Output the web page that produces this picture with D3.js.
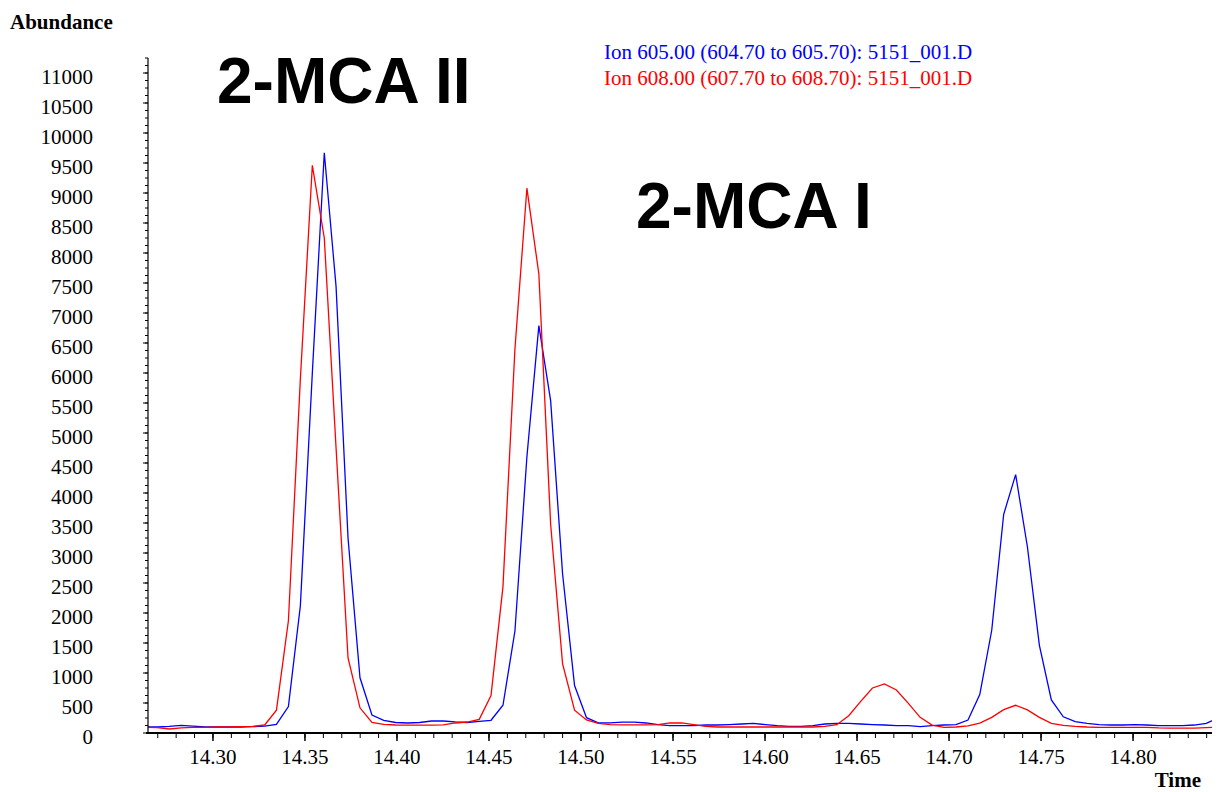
<!DOCTYPE html>
<html>
<head>
<meta charset="utf-8">
<script src="https://cdn.jsdelivr.net/npm/d3@7"></script>
<style>
  body { margin: 0; background: #ffffff; }
  svg { display: block; }
</style>
</head>
<body>
<div id="my_dataviz"></div>
<script>
// Scan times (minutes)
var times = [14.2633, 14.2698, 14.2762, 14.2827, 14.2892, 14.2957, 14.3022, 14.3086, 14.3151, 14.3216,
    14.3281, 14.3345, 14.3410, 14.3475, 14.3540, 14.3605, 14.3669, 14.3734, 14.3799, 14.3864,
    14.3928, 14.3993, 14.4058, 14.4123, 14.4188, 14.4252, 14.4317, 14.4382, 14.4447, 14.4511,
    14.4576, 14.4641, 14.4706, 14.4771, 14.4835, 14.4900, 14.4965, 14.5030, 14.5094, 14.5159,
    14.5224, 14.5289, 14.5354, 14.5418, 14.5483, 14.5548, 14.5613, 14.5677, 14.5742, 14.5807,
    14.5872, 14.5937, 14.6001, 14.6066, 14.6131, 14.6196, 14.6260, 14.6325, 14.6390, 14.6455,
    14.6520, 14.6584, 14.6649, 14.6714, 14.6779, 14.6843, 14.6908, 14.6973, 14.7038, 14.7103,
    14.7167, 14.7232, 14.7297, 14.7362, 14.7426, 14.7491, 14.7556, 14.7621, 14.7686, 14.7750,
    14.7815, 14.7880, 14.7945, 14.8009, 14.8074, 14.8139, 14.8204, 14.8269, 14.8333, 14.8398,
    14.8463];

// Ion 605.00 (blue)
var ion605 = [100, 100, 110, 128, 115, 100, 100, 100, 100, 105,
    115, 145, 440, 2120, 6000, 9670, 7440, 3250, 920, 300,
    212, 175, 167, 175, 200, 200, 185, 175, 195, 212,
    462, 1700, 4600, 6790, 5540, 2650, 790, 255, 170, 170,
    180, 180, 167, 140, 122, 122, 122, 133, 133, 140,
    150, 160, 140, 122, 111, 111, 122, 150, 161, 161,
    150, 140, 133, 122, 122, 105, 122, 133, 140, 215,
    640, 1712, 3645, 4307, 3100, 1462, 550, 270, 190, 161,
    140, 133, 133, 140, 133, 122, 122, 122, 133, 160,
    250];

// Ion 608.00 (red)
var ion608 = [95, 90, 67, 85, 95, 95, 100, 100, 105, 110,
    133, 380, 1870, 5900, 9460, 8250, 4750, 1250, 420, 175,
    145, 133, 130, 130, 130, 135, 167, 183, 228, 625,
    2440, 6400, 9080, 7650, 3480, 1150, 380, 217, 161, 139,
    135, 135, 135, 140, 167, 167, 139, 111, 100, 100,
    100, 100, 100, 100, 100, 100, 100, 110, 139, 289,
    528, 750, 817, 717, 494, 261, 133, 94, 100, 117,
    165, 260, 390, 462, 385, 260, 160, 128, 110, 100,
    95, 95, 95, 95, 95, 85, 80, 80, 80, 90,
    100];

var xTicks = [14.30, 14.35, 14.40, 14.45, 14.50, 14.55, 14.60, 14.65, 14.70, 14.75, 14.80];
var yTicks = [0, 500, 1000, 1500, 2000, 2500, 3000, 3500, 4000, 4500, 5000, 5500,
    6000, 6500, 7000, 7500, 8000, 8500, 9000, 9500, 10000, 10500, 11000];

var legendLabels = ["Ion 605.00 (604.70 to 605.70): 5151_001.D", "Ion 608.00 (607.70 to 608.70): 5151_001.D"];
var peakLabels = ["2-MCA II", "2-MCA I"];

// 1) canvas
var width = 1222, height = 792;
var plotLeft = 148, plotRight = 1212, plotBottom = 733, plotTop = 58;

var svg = d3.select("#my_dataviz")
    .append("svg")
    .attr("width", width)
    .attr("height", height);

var serif = "'Liberation Serif', 'Times New Roman', serif";

// 2) scales
var x = d3.scaleLinear()
    .domain([14.2647, 14.8429])
    .range([plotLeft, plotRight]);

var y = d3.scaleLinear()
    .domain([0, 11000])
    .range([plotBottom, plotBottom - 660]);

// clip the traces to the plot area
svg.append("clipPath").attr("id", "clip")
    .append("rect")
    .attr("x", plotLeft).attr("y", 0)
    .attr("width", plotRight - plotLeft).attr("height", plotBottom);

// 3) traces
var trace = d3.line()
    .x(function (d, i) { return x(times[i]); })
    .y(function (d) { return y(d); });

svg.append("path")
    .datum(ion605)
    .attr("clip-path", "url(#clip)")
    .attr("fill", "none")
    .attr("stroke", "#0000ff")
    .attr("stroke-width", 1.3)
    .attr("d", trace);

svg.append("path")
    .datum(ion608)
    .attr("clip-path", "url(#clip)")
    .attr("fill", "none")
    .attr("stroke", "#ff0000")
    .attr("stroke-width", 1.3)
    .attr("d", trace);

// 4) x axis
var xAxis = svg.append("g")
    .attr("transform", "translate(0," + plotBottom + ")");
xAxis.append("line")
    .attr("x1", plotLeft - 2).attr("x2", plotRight)
    .attr("stroke", "#000").attr("stroke-width", 2);
// minor ticks every 0.01
xAxis.selectAll(".minor")
    .data(d3.range(14.27, 14.845, 0.01))
    .enter().append("line")
    .attr("x1", function (d) { return x(d); })
    .attr("x2", function (d) { return x(d); })
    .attr("y1", 0).attr("y2", 5)
    .attr("stroke", "#000").attr("stroke-width", 1);
xAxis.selectAll(".major")
    .data(xTicks)
    .enter().append("line")
    .attr("x1", function (d) { return x(d); })
    .attr("x2", function (d) { return x(d); })
    .attr("y1", 0).attr("y2", 8)
    .attr("stroke", "#000").attr("stroke-width", 1.5);
xAxis.selectAll(".label")
    .data(xTicks)
    .enter().append("text")
    .attr("x", function (d) { return x(d); })
    .attr("y", 31)
    .attr("text-anchor", "middle")
    .style("font-family", serif)
    .style("font-size", "21px")
    .text(function (d) { return d3.format(".2f")(d); });

// 5) y axis
var yAxis = svg.append("g")
    .attr("transform", "translate(" + plotLeft + ",0)");
yAxis.append("line")
    .attr("y1", plotTop).attr("y2", plotBottom)
    .attr("stroke", "#000").attr("stroke-width", 1.2);
yAxis.selectAll(".minor")
    .data(d3.range(125, 11375, 125))
    .enter().append("line")
    .attr("y1", function (d) { return y(d); })
    .attr("y2", function (d) { return y(d); })
    .attr("x1", -3).attr("x2", 0)
    .attr("stroke", "#000").attr("stroke-width", 1);
yAxis.selectAll(".major")
    .data(yTicks)
    .enter().append("line")
    .attr("y1", function (d) { return y(d); })
    .attr("y2", function (d) { return y(d); })
    .attr("x1", -5).attr("x2", 0)
    .attr("stroke", "#000").attr("stroke-width", 1);
yAxis.selectAll(".label")
    .data(yTicks)
    .enter().append("text")
    .attr("x", 93 - plotLeft)
    .attr("y", function (d) { return y(d) + 11; })
    .attr("text-anchor", "end")
    .style("font-family", serif)
    .style("font-size", "21px")
    .text(function (d) { return d; });

// axis titles
svg.append("text").attr("x", 10).attr("y", 29).text("Abundance")
    .style("font-family", serif).style("font-size", "21px").style("font-weight", "bold");
svg.append("text").attr("x", 1201).attr("y", 787).attr("text-anchor", "end").text("Time")
    .style("font-family", serif).style("font-size", "21px").style("font-weight", "bold");

// 6) legend
var legendColors = ["#0000ff", "#ff0000"];
svg.selectAll(".legend")
    .data(legendLabels)
    .enter().append("text")
    .attr("x", 604)
    .attr("y", function (d, i) { return 59 + i * 26; })
    .style("font-family", serif)
    .style("font-size", "21px")
    .style("fill", function (d, i) { return legendColors[i]; })
    .text(function (d) { return d; });

// peak annotations
var peakPos = [[217, 103], [636, 228]];
svg.selectAll(".peak")
    .data(peakLabels)
    .enter().append("text")
    .attr("x", function (d, i) { return peakPos[i][0]; })
    .attr("y", function (d, i) { return peakPos[i][1]; })
    .style("font-family", "'Liberation Sans', Arial, sans-serif")
    .style("font-size", "64px")
    .style("font-weight", "bold")
    .text(function (d) { return d; });
</script>
</body>
</html>
